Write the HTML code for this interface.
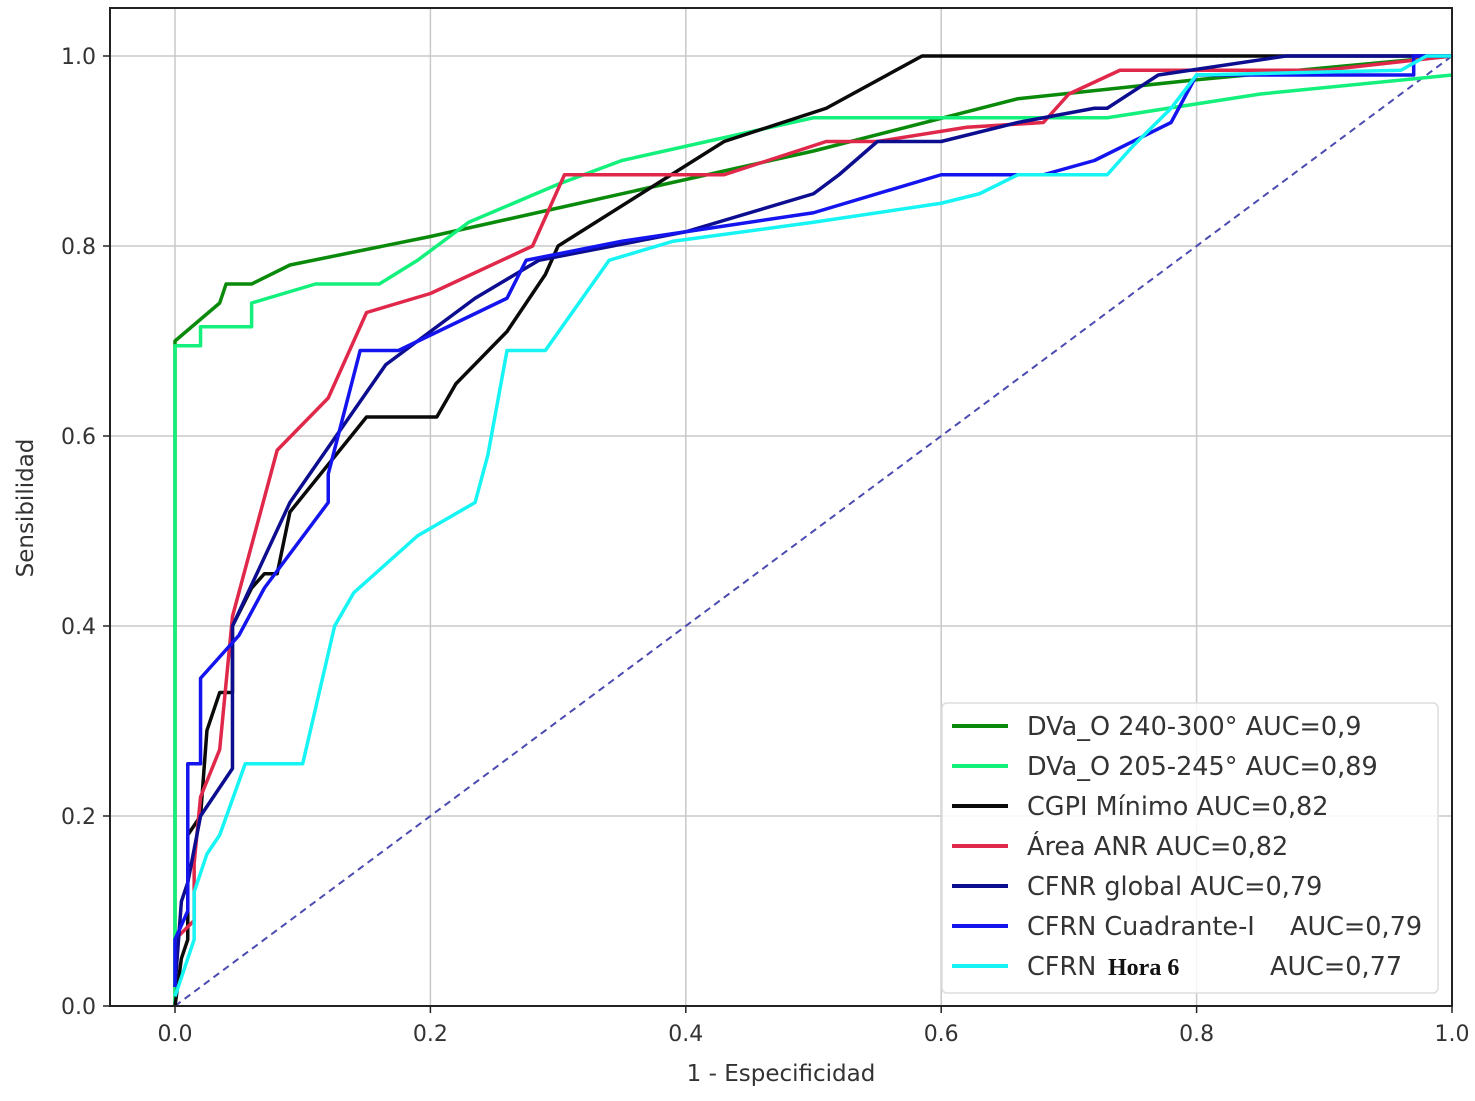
<!DOCTYPE html>
<html><head><meta charset="utf-8"><style>
html,body{margin:0;padding:0;background:#fff;}
svg text{font-family:"DejaVu Sans","Liberation Sans",sans-serif;fill:#333;}
</style></head><body>
<svg id="chart" width="1475" height="1096" xmlns="http://www.w3.org/2000/svg">
<g id="grid"></g>
<g id="ticks"></g>
<line id="diag" stroke="#4b4bb0" stroke-width="2" stroke-dasharray="7,5"/>
<g id="series"></g>
<rect x="110" y="8" width="1342" height="998" fill="none" stroke="#222" stroke-width="2"/>
<text x="781" y="1081" font-size="23" text-anchor="middle">1 - Especificidad</text>
<text transform="translate(33,508) rotate(-90)" font-size="23" text-anchor="middle">Sensibilidad</text>
<g id="legend">
<rect x="942" y="703" width="496" height="290" rx="5" fill="#fff" fill-opacity="0.85" stroke="#ddd" stroke-width="1.5"/>
</g>
</svg>
<script>
const xTicks=[0,0.2,0.4,0.6,0.8,1.0];
const yTicks=[0,0.2,0.4,0.6,0.8,1.0];
const names=["DVa_O 240-300° AUC=0,9","DVa_O 205-245° AUC=0,89","CGPI Mínimo AUC=0,82","Área ANR AUC=0,82","CFNR global AUC=0,79","CFRN Cuadrante-I","CFRN "];
const colors=["#0a8a0a","#14f07c","#0a0a0a","#e0284a","#0d0d90","#1414ee","#16f4f4"];
const fprDVa240=[0,0,0.035,0.04,0.06,0.09,0.2,0.3,0.5,0.66,0.8,1];
const tprDVa240=[0,0.70,0.74,0.76,0.76,0.78,0.81,0.84,0.9,0.955,0.975,1];
const fprDVa205=[0,0,0.02,0.02,0.06,0.06,0.11,0.16,0.19,0.23,0.3,0.35,0.45,0.5,0.6,0.73,0.85,1];
const tprDVa205=[0,0.695,0.695,0.715,0.715,0.74,0.76,0.76,0.785,0.825,0.865,0.89,0.92,0.935,0.935,0.935,0.96,0.98];
const fprCGPI=[0,0.005,0.01,0.01,0.02,0.025,0.035,0.045,0.045,0.06,0.07,0.08,0.09,0.15,0.205,0.22,0.26,0.29,0.3,0.43,0.51,0.585,1];
const tprCGPI=[0,0.05,0.07,0.18,0.2,0.29,0.33,0.33,0.4,0.44,0.455,0.455,0.52,0.62,0.62,0.655,0.71,0.77,0.8,0.91,0.945,1,1];
const fprArea=[0,0.015,0.015,0.02,0.035,0.045,0.08,0.12,0.15,0.2,0.28,0.305,0.43,0.51,0.55,0.62,0.68,0.7,0.74,0.9,1];
const tprArea=[0.07,0.09,0.15,0.22,0.27,0.41,0.585,0.64,0.73,0.75,0.8,0.875,0.875,0.91,0.91,0.925,0.93,0.96,0.985,0.985,1];
const fprGlobal=[0,0.005,0.01,0.02,0.045,0.045,0.09,0.165,0.235,0.285,0.4,0.5,0.52,0.55,0.6,0.66,0.72,0.73,0.77,0.87,1];
const tprGlobal=[0.02,0.11,0.13,0.2,0.25,0.4,0.53,0.675,0.745,0.785,0.815,0.855,0.875,0.91,0.91,0.93,0.945,0.945,0.98,1,1];
const fprCuad=[0,0,0.01,0.01,0.02,0.02,0.05,0.07,0.12,0.12,0.145,0.175,0.26,0.275,0.35,0.5,0.6,0.68,0.72,0.78,0.8,0.97,0.97,1];
const tprCuad=[0.02,0.07,0.1,0.255,0.255,0.345,0.39,0.44,0.53,0.56,0.69,0.69,0.745,0.785,0.805,0.835,0.875,0.875,0.89,0.93,0.98,0.98,1,1];
const fprHora=[0,0.005,0.01,0.015,0.015,0.025,0.035,0.055,0.1,0.125,0.14,0.19,0.235,0.245,0.26,0.29,0.34,0.39,0.5,0.6,0.63,0.66,0.73,0.75,0.78,0.8,0.96,0.98,1];
const tprHora=[0.01,0.03,0.05,0.07,0.12,0.16,0.18,0.255,0.255,0.4,0.435,0.495,0.53,0.58,0.69,0.69,0.785,0.805,0.825,0.845,0.855,0.875,0.875,0.905,0.945,0.98,0.985,1,1];
const seriesX=[fprDVa240,fprDVa205,fprCGPI,fprArea,fprGlobal,fprCuad,fprHora];
const seriesY=[tprDVa240,tprDVa205,tprCGPI,tprArea,tprGlobal,tprCuad,tprHora];
const sx=v=>175+v*1277, sy=v=>1006-v*950;
const NS="http://www.w3.org/2000/svg";
function mk(t,a,p){const e=document.createElementNS(NS,t);for(const k in a)e.setAttribute(k,a[k]);p.appendChild(e);return e;}
const grid=document.getElementById('grid'),ticks=document.getElementById('ticks');
xTicks.forEach(v=>{
 const l=mk('line',{x1:sx(v),x2:sx(v),y1:8,y2:1006,stroke:'#c8c8c8','stroke-width':1.5},grid);
 
 
 const tk=mk('line',{x1:sx(v),x2:sx(v),y1:1006,y2:1013,stroke:'#222','stroke-width':1.5},ticks);
 
 
 const t=mk('text',{x:sx(v),y:1041,'font-size':22,'text-anchor':'middle'},ticks);
 t.textContent=v.toFixed(1);
 
 
});
yTicks.forEach(v=>{
 const l=mk('line',{x1:110,x2:1452,y1:sy(v),y2:sy(v),stroke:'#c8c8c8','stroke-width':1.5},grid);
 
 
 const tk=mk('line',{x1:103,x2:110,y1:sy(v),y2:sy(v),stroke:'#222','stroke-width':1.5},ticks);
 
 
 const t=mk('text',{x:96,y:sy(v)+8,'font-size':22,'text-anchor':'end'},ticks);
 t.textContent=v.toFixed(1);
 
 
});
const d=document.getElementById('diag');
d.setAttribute('x1',sx(0));d.setAttribute('y1',sy(0));d.setAttribute('x2',sx(1));d.setAttribute('y2',sy(1));
const sg=document.getElementById('series');
seriesX.forEach((xs,i)=>{
 const pts=xs.map((x,j)=>sx(x)+','+sy(seriesY[i][j])).join(' ');
 const p=mk('polyline',{points:pts,fill:'none',stroke:colors[i],'stroke-width':3.5,'stroke-linejoin':'round'},sg);
 
 
});
const lg=document.getElementById('legend');
names.forEach((n,i)=>{
 const y=726+i*40;
 const l=mk('line',{x1:952,x2:1008,y1:y,y2:y,stroke:colors[i],'stroke-width':4},lg);
 
 
 const t=mk('text',{x:1027,y:y+9,'font-size':25.5},lg);
 
 
 t.textContent=n;
 if(i===5){
  const a=mk('tspan',{x:1290},t);
  a.textContent='AUC=0,79';
 }
 if(i===6){
  const b=mk('tspan',{'font-family':'Liberation Serif, serif','font-weight':'bold',fill:'#111','font-size':24,x:1108},t);
  b.textContent='Hora 6';
  const a=mk('tspan',{x:1270},t);
  a.textContent='AUC=0,77';
 }
});
</script>
</body></html>
